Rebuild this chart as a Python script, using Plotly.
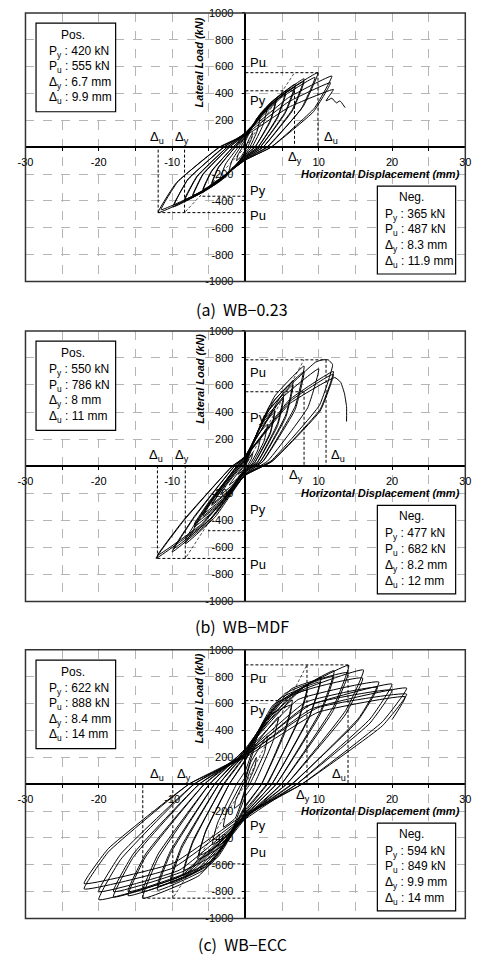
import plotly.graph_objects as go

# ---------------- data ----------------
captions = ["(a)  WB\u22120.23", "(b)  WB\u2212MDF", "(c)  WB\u2212ECC"]

x_tick_vals = [-30, -20, -10, 10, 20, 30]
x_tick_text = ["-30", "-20", "-10", "10", "20", "30"]
y_tick_vals = [-1000, -800, -600, -400, -200, 200, 400, 600, 800, 1000]
y_tick_text = ["-1000", "-800", "-600", "-400", "-200", "200", "400", "600", "800", "1000"]

pos_py = [420, 550, 622]
pos_pu = [555, 786, 888]
pos_dy = [6.7, 8, 8.4]
pos_du = [9.9, 11, 14]
neg_py = [365, 477, 594]
neg_pu = [487, 682, 849]
neg_dy = [8.3, 8.2, 9.9]
neg_du = [11.9, 12, 14]
py_line_end_pos = [6.7, 8.0, 6.4]
py_line_end_neg = [6.2, 5.1, 6.4]

curve_a = [
    (0, 0), (0.5, 60),
    (1.0, 110), (0.8, 60), (0.3, 0), (0, -20), (-0.6, -70), (-1.2, -100), (-1.0, -55), (-0.4, 0), (0, 45), (1.0, 155),
    (2.0, 220), (1.6, 120), (0.6, 0), (0, -35), (-1.1, -120), (-2.2, -170), (-1.8, -95), (-0.7, 0), (0, 60), (1.5, 210),
    (3.0, 300), (2.4, 165), (0.9, 0), (0, -45), (-1.7, -160), (-3.4, -230), (-2.7, -125), (-1.0, 0), (0, 75), (2.1, 255),
    (4.2, 365), (3.4, 200), (1.3, 0), (0, -55), (-2.3, -195), (-4.6, -280), (-3.7, -155), (-1.4, 0), (0, 70), (2.1, 245),
    (4.2, 350), (3.4, 190), (1.3, 0), (0, -55), (-2.3, -190), (-4.6, -270), (-3.7, -150), (-1.4, 0), (0, 85), (2.8, 295),
    (5.5, 420), (4.4, 230), (1.7, 0), (0, -65), (-2.9, -230), (-5.8, -325), (-4.6, -180), (-1.7, 0), (0, 80), (2.8, 280),
    (5.5, 400), (4.4, 220), (1.7, 0), (0, -65), (-2.9, -220), (-5.8, -315), (-4.6, -175), (-1.7, 0), (0, 95), (3.4, 330),
    (6.8, 470), (5.4, 260), (2.0, 0), (0, -75), (-3.6, -260), (-7.2, -370), (-5.8, -205), (-2.2, 0), (0, 90), (3.4, 315),
    (6.8, 450), (5.4, 250), (2.0, 0), (0, -70), (-3.6, -250), (-7.2, -360), (-5.8, -200), (-2.2, 0), (0, 100), (4.0, 355),
    (8.0, 510), (6.4, 280), (2.4, 0), (0, -80), (-4.2, -280), (-8.3, -400), (-6.6, -220), (-2.5, 0), (0, 100), (4.0, 345),
    (8.0, 490), (6.4, 270), (2.4, 0), (0, -80), (-4.2, -275), (-8.3, -390), (-6.6, -215), (-2.5, 0), (0, 110), (5.0, 390),
    (9.9, 555), (7.9, 305), (3.0, 0), (0, -90), (-5.0, -310), (-9.9, -445), (-7.9, -245), (-3.0, 0), (0, 105), (4.8, 365),
    (9.5, 520), (7.6, 285), (2.9, 0), (0, -85), (-4.9, -300), (-9.7, -430), (-7.8, -235), (-2.9, 0), (0, 105), (5.9, 370),
    (11.8, 530), (9.4, 290), (3.5, 0), (0, -95), (-6.0, -340), (-11.9, -487), (-9.5, -270), (-3.6, 0), (0, 95), (5.8, 335),
    (11.6, 480), (9.3, 265), (3.5, 0), (0, -95), (-5.8, -325), (-11.5, -465), (-9.2, -255), (-3.5, 0), (0, 85), (6.0, 300),
    (12.0, 430), (11.0, 345), (11.8, 365), (12.4, 330), (12.9, 345), (13.6, 295),
]

curve_b = [
    (0, 0), (0.5, 60),
    (1.0, 100), (0.85, 60), (0.3, 5), (0, -6), (-0.5, -40), (-1.0, -60), (-0.7, -36), (-0.15, 0), (0, 10), (1.0, 140),
    (2.0, 200), (1.7, 120), (0.6, 10), (0, -14), (-1.1, -91), (-2.2, -140), (-1.5, -84), (-0.3, 0), (0, 20), (1.5, 217),
    (3.0, 310), (2.55, 186), (0.9, 15), (0, -21), (-1.7, -137), (-3.4, -210), (-2.4, -126), (-0.5, 0), (0, 31), (2.0, 294),
    (4.0, 420), (3.4, 252), (1.2, 21), (0, -29), (-2.3, -189), (-4.6, -290), (-3.2, -174), (-0.7, 0), (0, 42), (2.0, 280),
    (4.0, 400), (3.4, 240), (1.2, 20), (0, -28), (-2.3, -182), (-4.6, -280), (-3.2, -168), (-0.7, 0), (0, 40), (2.6, 371),
    (5.2, 530), (4.4, 318), (1.6, 27), (0, -37), (-2.9, -240), (-5.8, -370), (-4.1, -222), (-0.9, 0), (0, 53), (2.6, 350),
    (5.2, 500), (4.4, 300), (1.6, 25), (0, -36), (-2.9, -231), (-5.8, -355), (-4.1, -213), (-0.9, 0), (0, 50), (3.25, 441),
    (6.5, 630), (5.5, 378), (2.0, 32), (0, -45), (-3.5, -293), (-7.0, -450), (-4.9, -270), (-1.1, 0), (0, 63), (3.25, 420),
    (6.5, 600), (5.5, 360), (2.0, 30), (0, -43), (-3.5, -280), (-7.0, -430), (-4.9, -258), (-1.1, 0), (0, 60), (4.0, 518),
    (8.0, 740), (6.8, 444), (2.4, 37), (0, -58), (-4.1, -374), (-8.2, -575), (-5.7, -345), (-1.2, 0), (0, 74), (4.0, 490),
    (8.0, 700), (6.8, 420), (2.4, 35), (0, -55), (-4.1, -354), (-8.2, -545), (-5.7, -327), (-1.2, 0), (0, 70), (5.25, 550),
    (9.6, 770), (10.5, 786), (11.3, 786), (11.9, 750), (10.1, 450), (3.5, 39), (0, -64), (-5.0, -413), (-10.0, -635),
    (-7.0, -381), (-1.5, 0), (0, 79), (5.0, 504),
    (10.0, 720), (8.5, 432), (3.0, 36), (0, -61), (-4.9, -397), (-9.8, -610), (-6.9, -366), (-1.5, 0), (0, 72), (6.0, 490),
    (12.0, 700), (10.2, 420), (3.6, 35), (0, -68), (-6.1, -443), (-12.2, -682), (-8.5, -409), (-1.8, 0), (0, 70), (6.0, 476),
    (12.0, 680), (10.2, 408), (3.6, 34), (0, -66), (-6.0, -429), (-12.0, -660), (-8.4, -396), (-1.8, 0), (0, 68), (6.0, 460),
    (12.2, 655), (13.0, 620), (13.5, 540), (13.8, 440), (13.8, 330),
]

curve_c = [
    (0, 0), (0.7, 110),
    (1.5, 200), (1.3, 130), (0.3, 0), (0, -30), (-0.7, -145), (-1.5, -180), (-1.3, -115), (-0.3, 0), (0, 30), (0.7, 160),
    (3.0, 360), (2.6, 235), (0.6, 0), (0, -50), (-1.4, -255), (-3.0, -320), (-2.6, -210), (-0.6, 0), (0, 55), (1.4, 290),
    (4.5, 500), (3.8, 325), (1.2, 0), (0, -90), (-2.0, -360), (-4.5, -450), (-3.8, -290), (-1.2, 0), (0, 100), (2.0, 400),
    (6.4, 625), (5.4, 405), (2.2, 0), (0, -170), (-2.9, -450), (-6.5, -560), (-5.5, -365), (-2.2, 0), (0, 185), (2.9, 500),
    (6.3, 590), (5.4, 385), (2.2, 0), (0, -160), (-2.8, -425), (-6.3, -530), (-5.4, -345), (-2.2, 0), (0, 175), (2.8, 470),
    (8.5, 740), (7.2, 480), (3.0, 0), (0, -205), (-3.8, -545), (-8.5, -680), (-7.2, -440), (-3.0, 0), (0, 220), (3.8, 590),
    (8.4, 700), (7.1, 455), (2.9, 0), (0, -190), (-3.8, -510), (-8.4, -640), (-7.1, -415), (-2.9, 0), (0, 210), (3.8, 560),
    (10.3, 795), (8.8, 515), (3.6, 0), (0, -220), (-4.6, -590), (-10.2, -740), (-8.7, -480), (-3.6, 0), (0, 240), (4.6, 635),
    (10.2, 760), (8.7, 495), (3.6, 0), (0, -215), (-4.6, -570), (-10.2, -710), (-8.7, -460), (-3.6, 0), (0, 230), (4.6, 610),
    (12.1, 845), (10.3, 550), (4.2, 0), (0, -235), (-5.4, -630), (-12.0, -790), (-10.2, -515), (-4.2, 0), (0, 255), (5.4, 675),
    (12.0, 800), (10.2, 520), (4.2, 0), (0, -230), (-5.4, -610), (-12.0, -760), (-10.2, -495), (-4.2, 0), (0, 240), (5.4, 640),
    (14.1, 885), (12.0, 575), (4.9, 0), (0, -255), (-6.3, -680), (-14.0, -850), (-11.9, -550), (-4.9, 0), (0, 265), (6.3, 710),
    (14.0, 830), (11.9, 540), (4.9, 0), (0, -240), (-6.3, -640), (-14.0, -800), (-11.9, -520), (-4.9, 0), (0, 250), (6.3, 665),
    (16.1, 850), (13.7, 550), (5.6, 0), (0, -250), (-7.2, -665), (-16.0, -830), (-13.6, -540), (-5.6, 0), (0, 255), (7.2, 680),
    (16.0, 790), (13.6, 515), (5.6, 0), (0, -240), (-7.2, -640), (-16.0, -800), (-13.6, -520), (-5.6, 0), (0, 235), (7.2, 630),
    (18.2, 760), (15.5, 495), (6.4, 0), (0, -250), (-8.2, -670), (-18.0, -840), (-15.3, -545), (-6.3, 0), (0, 230), (8.2, 610),
    (18.0, 720), (15.3, 470), (6.3, 0), (0, -240), (-8.1, -640), (-18.0, -800), (-15.3, -520), (-6.3, 0), (0, 215), (8.1, 575),
    (20.0, 745), (17.0, 485), (7.0, 0), (0, -260), (-9.0, -690), (-20.0, -860), (-17.0, -560), (-7.0, 0), (0, 225), (9.0, 595),
    (20.0, 700), (17.0, 455), (7.0, 0), (0, -240), (-9.0, -640), (-20.0, -800), (-17.0, -520), (-7.0, 0), (0, 210), (9.0, 560),
    (22.0, 715), (18.7, 465), (7.7, 0), (0, -235), (-9.9, -625), (-22.0, -780), (-18.7, -505), (-7.7, 0), (0, 215), (9.9, 570),
    (22.0, 670), (18.7, 435), (7.7, 0), (0, -220), (-9.9, -590), (-22.0, -740), (-18.7, -480), (-7.7, 0), (0, 200), (9.9, 535),
    (21.8, 650), (20.0, 480),
]
curves = [curve_a, curve_b, curve_c]

# ---------------- layout constants ----------------
W, H = 482, 959
XD = [18 / W, 471 / W]
YD = [[1 - 279 / H, 1 - 7 / H], [1 - 603 / H, 1 - 329 / H], [1 - 924 / H, 1 - 652 / H]]
caption_y = [1 - 307 / H, 1 - 628 / H, 1 - 950 / H]
label_pos = [  # Pu+, Py+, Py-, Pu- label heights
    [630, 345, -324, -507],
    [694, 362, -322, -728],
    [787, 550, -306, -506],
]
delta_pos = [  # (x, y) of Du-, Dy-, Dy+, Du+ labels
    [(-12.0, 75), (-8.6, 75), (6.7, -75), (11.7, 75)],
    [(-12.2, 79), (-8.6, 79), (6.9, -69), (12.6, 79)],
    [(-12.1, 73), (-8.4, 73), (7.9, -81), (12.8, 73)],
]
ylab_y = [632, 647, 640]

FONT = "Liberation Sans, Arial, sans-serif"
fig = go.Figure()
annotations = []
shapes = []
layout_axes = {}

for i in range(3):
    n = i + 1
    xa = "x" if n == 1 else f"x{n}"
    ya = "y" if n == 1 else f"y{n}"
    dash_line = dict(color="black", width=1, dash="3px,2px")
    segs = [
        ([0, pos_du[i]], [pos_pu[i], pos_pu[i]]),
        ([pos_du[i], pos_du[i]], [pos_pu[i], 0]),
        ([0, py_line_end_pos[i]], [pos_py[i], pos_py[i]]),
        ([pos_dy[i], pos_dy[i]], [pos_py[i] if i < 2 else pos_pu[i], 0]),
        ([0, -neg_du[i]], [-neg_pu[i], -neg_pu[i]]),
        ([-neg_du[i], -neg_du[i]], [-neg_pu[i], 0]),
        ([0, -py_line_end_neg[i]], [-neg_py[i], -neg_py[i]]),
        ([-neg_dy[i], -neg_dy[i]], [-neg_pu[i], 0]),
    ]
    for sx, sy in segs:
        fig.add_trace(go.Scatter(x=sx, y=sy, mode="lines", line=dash_line,
                                 xaxis=xa, yaxis=ya, hoverinfo="skip", showlegend=False))
    thin = dict(color="black", width=0.7, dash="3px,2px")
    fig.add_trace(go.Scatter(x=[0, pos_dy[i]], y=[0, pos_pu[i]], mode="lines", line=thin,
                             xaxis=xa, yaxis=ya, hoverinfo="skip", showlegend=False))
    fig.add_trace(go.Scatter(x=[0, -neg_dy[i]], y=[0, -neg_pu[i]], mode="lines", line=thin,
                             xaxis=xa, yaxis=ya, hoverinfo="skip", showlegend=False))
    cx = [p[0] for p in curves[i]]
    cy = [p[1] for p in curves[i]]
    fig.add_trace(go.Scatter(x=cx, y=cy, mode="lines",
                             line=dict(color="black", width=1.0, shape="spline", smoothing=0.35),
                             xaxis=xa, yaxis=ya, hoverinfo="skip", showlegend=False))

    ymid = (YD[i][0] + YD[i][1]) / 2
    xmid = (XD[0] + XD[1]) / 2
    grid = dict(showgrid=True, gridcolor="#b5b5b5", gridwidth=1, griddash="dash")
    axis_common = dict(showline=True, linecolor="black", linewidth=1.5,
                       ticks="outside", ticklen=3, tickcolor="black",
                       zeroline=False, tickfont=dict(family=FONT, size=11, color="black"),
                       fixedrange=True, anchor="free", **grid)
    layout_axes["xaxis" if n == 1 else f"xaxis{n}"] = dict(
        axis_common, domain=XD, range=[-30, 30], position=ymid,
        tickmode="array", tickvals=x_tick_vals, ticktext=x_tick_text, ticklabelstandoff=2,
        minor=dict(dtick=5, tick0=0, ticks="outside", ticklen=3, tickcolor="black", **grid))
    layout_axes["yaxis" if n == 1 else f"yaxis{n}"] = dict(
        axis_common, domain=YD[i], range=[-1000, 1000], position=xmid, side="left",
        tickmode="array", tickvals=y_tick_vals, ticktext=y_tick_text, ticklabelstandoff=6)

    # frame
    shapes.append(dict(type="rect", xref=f"{xa} domain", yref=f"{ya} domain", x0=0, x1=1, y0=0, y1=1,
                       line=dict(color="#333333", width=1.5), layer="above"))
    # legend boxes
    shapes.append(dict(type="rect", xref=f"{xa} domain", yref=f"{ya} domain",
                       x0=0.024, x1=0.205, y0=0.632, y1=0.962,
                       line=dict(color="black", width=1.2), fillcolor="white", layer="above"))
    shapes.append(dict(type="rect", xref=f"{xa} domain", yref=f"{ya} domain",
                       x0=0.800, x1=0.978, y0=0.028, y1=0.355,
                       line=dict(color="black", width=1.2), fillcolor="white", layer="above"))

    boxfont = dict(family=FONT, size=12, color="black")
    pos_lines = ["Pos.",
                 f"P<sub>y</sub> : {pos_py[i]} kN",
                 f"P<sub>u</sub> : {pos_pu[i]} kN",
                 f"\u0394<sub>y</sub> : {pos_dy[i]:g} mm",
                 f"\u0394<sub>u</sub> : {pos_du[i]:g} mm"]
    neg_lines = ["Neg.",
                 f"P<sub>y</sub> : {neg_py[i]} kN",
                 f"P<sub>u</sub> : {neg_pu[i]} kN",
                 f"\u0394<sub>y</sub> : {neg_dy[i]:g} mm",
                 f"\u0394<sub>u</sub> : {neg_du[i]:g} mm"]
    pos_y = [0.918, 0.855, 0.798, 0.740, 0.683]
    neg_y = [0.315, 0.248, 0.190, 0.131, 0.072]
    for k, t in enumerate(pos_lines):
        annotations.append(dict(xref=f"{xa} domain", yref=f"{ya} domain",
                                x=0.077 if k == 0 else 0.049, y=pos_y[k], text=t,
                                xanchor="left", yanchor="middle", showarrow=False, font=boxfont))
    for k, t in enumerate(neg_lines):
        annotations.append(dict(xref=f"{xa} domain", yref=f"{ya} domain",
                                x=0.845 if k == 0 else 0.812, y=neg_y[k], text=t,
                                xanchor="left", yanchor="middle", showarrow=False, font=boxfont))

    # Pu / Py labels
    lblfont = dict(family=FONT, size=13, color="black")
    for t, yy in zip(["Pu", "Py", "Py", "Pu"], label_pos[i]):
        annotations.append(dict(xref=xa, yref=ya, x=0.3, y=yy, text=t, xanchor="left",
                                yanchor="middle", showarrow=False, font=lblfont))
    for t, (xx, yy) in zip(["\u0394<sub>u</sub>", "\u0394<sub>y</sub>", "\u0394<sub>y</sub>", "\u0394<sub>u</sub>"],
                           delta_pos[i]):
        annotations.append(dict(xref=xa, yref=ya, x=xx, y=yy, text=t, xanchor="center",
                                yanchor="middle", showarrow=False, font=lblfont))

    # axis titles
    annotations.append(dict(xref=xa, yref=ya, x=-6.3, y=ylab_y[i], textangle=-90,
                            text="<b><i>Lateral Load (kN)</i></b>", showarrow=False,
                            font=dict(family=FONT, size=11, color="black")))
    annotations.append(dict(xref=xa, yref=ya, x=29.6, y=-197, xanchor="right", yanchor="middle",
                            text="<b><i>Horizontal Displacement (mm)</i></b>", showarrow=False,
                            font=dict(family=FONT, size=11, color="black")))
    # caption
    annotations.append(dict(xref="paper", yref="paper", x=0.5, y=caption_y[i], text=captions[i],
                            xanchor="center", yanchor="middle", showarrow=False,
                            font=dict(family="Noto Sans CJK KR, Liberation Sans, sans-serif",
                                      size=16, color="black")))

fig.update_layout(width=W, height=H, margin=dict(l=0, r=0, t=0, b=0),
                  paper_bgcolor="white", plot_bgcolor="white",
                  showlegend=False, annotations=annotations, shapes=shapes, **layout_axes)

fig.write_html("out.html", config={"displayModeBar": False},
               post_script="document.body.style.margin='0';document.body.style.padding='0';"
                           "document.body.style.overflow='hidden';")
